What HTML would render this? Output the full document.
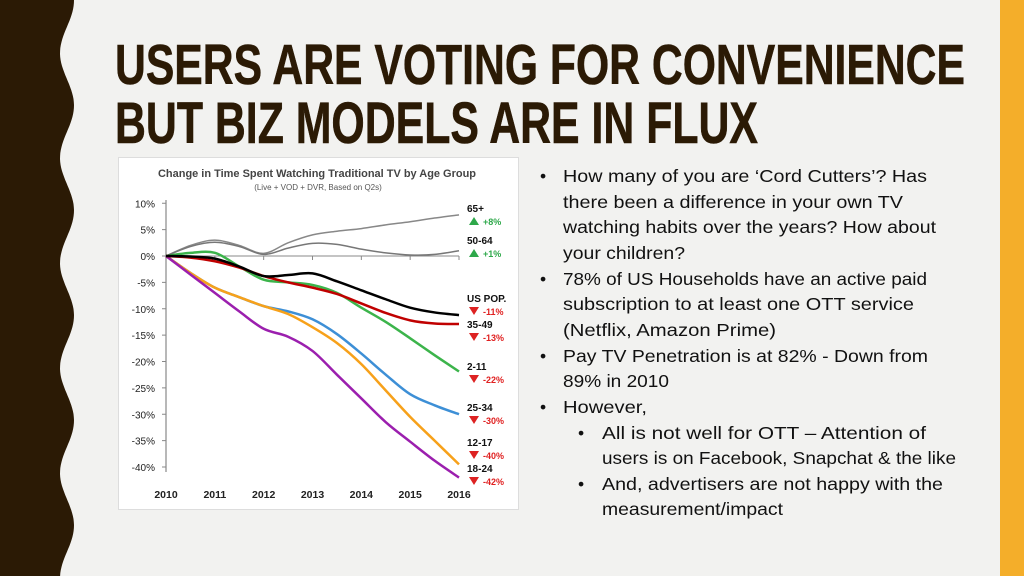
<!DOCTYPE html>
<html><head><meta charset="utf-8"><style>
html,body{margin:0;padding:0;width:1024px;height:576px;overflow:hidden;background:#f2f2f0}
svg{display:block}
</style></head><body>
<svg width="1024" height="576" viewBox="0 0 1024 576" xmlns="http://www.w3.org/2000/svg">
<rect width="1024" height="576" fill="#f2f2f0"/>
<path id="wave" fill="#2b1a05" d=""/>
<rect x="1000" y="0" width="24" height="576" fill="#f4ae2a"/>
<g font-family="'Liberation Sans Narrow','Liberation Sans',sans-serif" font-weight="bold" fill="#2b1a05" stroke="#2b1a05" stroke-width="0.6">
<text x="115" y="84" font-size="57" textLength="850" lengthAdjust="spacingAndGlyphs">USERS ARE VOTING FOR CONVENIENCE</text>
<text x="115" y="143" font-size="58" textLength="643" lengthAdjust="spacingAndGlyphs">BUT BIZ MODELS ARE IN FLUX</text>
</g>
<rect x="118.5" y="157.5" width="400" height="352" fill="#fff" stroke="#ddd"/>
<g id="chart" font-family="'Liberation Sans',sans-serif">
<text x="158" y="177" font-size="11" font-weight="bold" fill="#444" textLength="318" lengthAdjust="spacingAndGlyphs">Change in Time Spent Watching Traditional TV by Age Group</text>
<text x="318" y="190" font-size="8" fill="#555" text-anchor="middle">(Live + VOD + DVR, Based on Q2s)</text>
</g>
<g font-family="'Liberation Sans',sans-serif" font-size="17.5" fill="#111">
<text x="540" y="182">•</text>
<text x="563" y="182" textLength="364" lengthAdjust="spacingAndGlyphs">How many of you are ‘Cord Cutters’? Has</text>
<text x="563" y="208" textLength="340" lengthAdjust="spacingAndGlyphs">there been a difference in your own TV</text>
<text x="563" y="233" textLength="373" lengthAdjust="spacingAndGlyphs">watching habits over the years? How about</text>
<text x="563" y="259" textLength="122" lengthAdjust="spacingAndGlyphs">your children?</text>
<text x="540" y="285">•</text>
<text x="563" y="285" textLength="364" lengthAdjust="spacingAndGlyphs">78% of US Households have an active paid</text>
<text x="563" y="310" textLength="351" lengthAdjust="spacingAndGlyphs">subscription to at least one OTT service</text>
<text x="563" y="336" textLength="213" lengthAdjust="spacingAndGlyphs">(Netflix, Amazon Prime)</text>
<text x="540" y="362">•</text>
<text x="563" y="362" textLength="365" lengthAdjust="spacingAndGlyphs">Pay TV Penetration is at 82% - Down from</text>
<text x="563" y="387" textLength="106" lengthAdjust="spacingAndGlyphs">89% in 2010</text>
<text x="540" y="413">•</text>
<text x="563" y="413" textLength="84" lengthAdjust="spacingAndGlyphs">However,</text>
<text x="578" y="439">•</text>
<text x="602" y="439" textLength="324" lengthAdjust="spacingAndGlyphs">All is not well for OTT – Attention of</text>
<text x="602" y="464" textLength="354" lengthAdjust="spacingAndGlyphs">users is on Facebook, Snapchat &amp; the like</text>
<text x="578" y="490">•</text>
<text x="602" y="490" textLength="341" lengthAdjust="spacingAndGlyphs">And, advertisers are not happy with the</text>
<text x="602" y="515" textLength="181" lengthAdjust="spacingAndGlyphs">measurement/impact</text>
</g>
</svg>
<script>
const years = [2010,2010.5,2011,2011.5,2012,2012.5,2013,2013.5,2014,2014.5,2015,2015.5,2016];
const yTicks = [10,5,0,-5,-10,-15,-20,-25,-30,-35,-40];
const xTicks = [2010,2011,2012,2013,2014,2015,2016];
const s65 = [0,2,3,2,0.5,2.5,4,4.7,5.2,5.9,6.5,7.2,7.8];
const s5064 = [0,1.8,2.6,1.8,0.3,1.5,2.4,2.2,1.3,0.6,0.2,0.3,1];
const sUS = [0,-0.1,-0.5,-2,-3.8,-3.6,-3.3,-4.8,-6.5,-8.2,-9.8,-10.7,-11.2];
const s3549 = [0,-0.3,-1,-2.2,-3.8,-5,-6,-7.2,-9,-10.8,-12.2,-12.8,-12.9];
const s211 = [0,0.6,0.6,-2,-4.5,-5,-5.5,-7,-9.8,-12.5,-15.6,-18.8,-21.9];
const s2534 = [0,-3.2,-6,-7.8,-9.5,-10.5,-12,-14.8,-18.5,-22.5,-26.2,-28.3,-30];
const s1217 = [0,-3.2,-6,-7.8,-9.5,-11,-13.5,-16.5,-20.5,-25.5,-30.5,-35,-39.5];
const s1824 = [0,-3.5,-7,-10.5,-13.8,-15.3,-18,-22.5,-27,-31.5,-35.2,-38.8,-42];
const seriesNames = ['65+','50-64','US POP.','35-49','2-11','25-34','12-17','18-24'];
const seriesChange = ['+8%','+1%','-11%','-13%','-22%','-30%','-40%','-42%'];

const NS='http://www.w3.org/2000/svg';
const x=v=>166+(v-2010)*(459-166)/6;
const y=v=>256-v*(467-256)/40;
function mk(t,a,p){const e=document.createElementNS(NS,t);for(const k in a)e.setAttribute(k,a[k]);p.appendChild(e);return e;}
let d='M0 0 L60 0';
for(let yy=0;yy<=576;yy+=3){d+=' L'+(67-7*Math.cos((yy-53)/105*2*Math.PI)).toFixed(1)+' '+yy;}
d+=' L0 576 Z';
document.getElementById('wave').setAttribute('d',d);
const g=document.getElementById('chart');
const ya=mk('line',{x1:166,y1:200,x2:166,y2:472,stroke:'#888','stroke-width':1.2},g);


const xa=mk('line',{x1:166,y1:y(0),x2:459,y2:y(0),stroke:'#888','stroke-width':1},g);


yTicks.forEach(v=>{
 const t=mk('text',{x:155,y:y(v)+4,'font-size':10,fill:'#222','text-anchor':'end'},g);t.textContent=v+'%';
 
 
 mk('line',{x1:162,x2:166,y1:y(v),y2:y(v),stroke:'#888'},g);
});
xTicks.forEach(v=>{
 const t=mk('text',{x:x(v),y:498,'font-size':10.5,'font-weight':'bold',fill:'#222','text-anchor':'middle'},g);t.textContent=v;
 
 
 if(v>2010){mk('line',{x1:x(v),x2:x(v),y1:y(0),y2:y(0)+4,stroke:'#888'},g);}
});
const all=[s65,s5064,sUS,s3549,s211,s2534,s1217,s1824];
const cols=['#888','#777','#000','#c00000','#3cb44b','#3d8fd6','#f7a11a','#9b1fae'];
const widths=[1.5,1.5,2.5,2.5,2.5,2.5,2.5,2.5];
const drawOrder=[0,1,5,6,7,4,3,2];
function smooth(pts){let s='M'+pts[0][0]+' '+pts[0][1];for(let i=0;i<pts.length-1;i++){const p0=pts[i-1]||pts[i],p1=pts[i],p2=pts[i+1],p3=pts[i+2]||p2;s+=' C'+(p1[0]+(p2[0]-p0[0])/6)+' '+(p1[1]+(p2[1]-p0[1])/6)+' '+(p2[0]-(p3[0]-p1[0])/6)+' '+(p2[1]-(p3[1]-p1[1])/6)+' '+p2[0]+' '+p2[1];}return s;}
drawOrder.forEach(i=>{
 const pts=years.map((yr,j)=>[x(yr),y(all[i][j])]);
 const p=mk('path',{d:smooth(pts),fill:'none',stroke:cols[i],'stroke-width':widths[i]},g);
 
 
});
const labY=[208,240,298,324,366,407,442,468];
seriesNames.forEach((n,i)=>{
 const t=mk('text',{x:467,y:labY[i]+4,'font-size':10,'font-weight':'bold',fill:'#111'},g);t.textContent=n;
 
 
 const up=seriesChange[i][0]=='+';
 const cy=labY[i]+13, c=up?'#2ea84a':'#d22';
 mk('path',{d:up?`M${469} ${cy+4} L${479} ${cy+4} L${474} ${cy-4} Z`:`M${469} ${cy-4} L${479} ${cy-4} L${474} ${cy+4} Z`,fill:c},g);
 const t2=mk('text',{x:483,y:cy+4,'font-size':9,'font-weight':'bold',fill:up?'#2ea84a':'#e02020'},g);t2.textContent=seriesChange[i];
 
 
});
</script>
</body></html>
